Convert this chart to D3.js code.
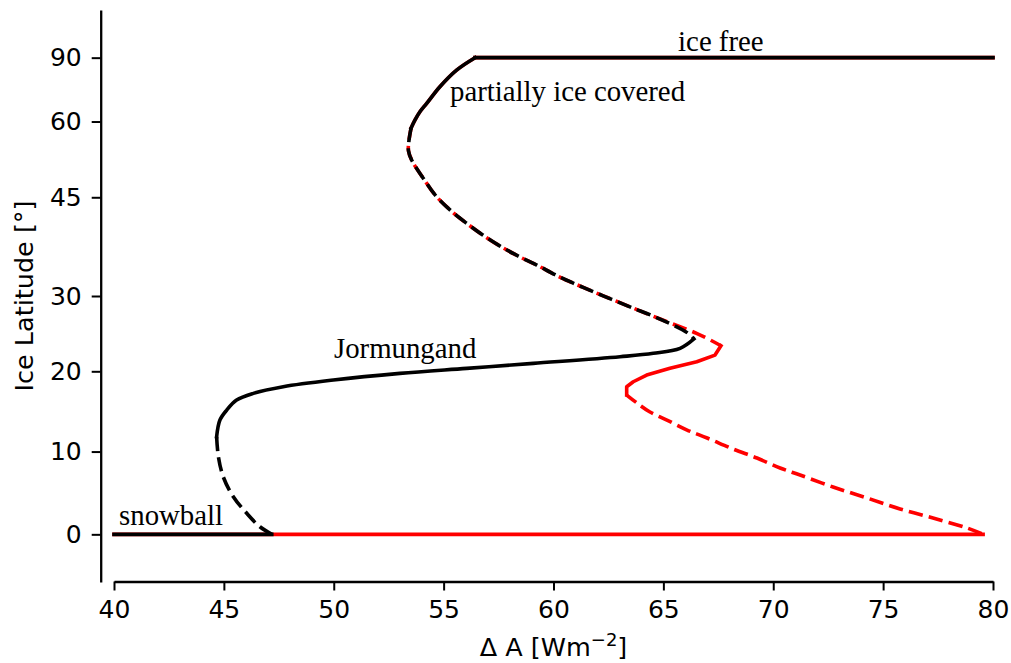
<!DOCTYPE html>
<html>
<head>
<meta charset="utf-8">
<script src="https://cdn.jsdelivr.net/npm/d3@7"></script>
<style>
  html, body { margin: 0; padding: 0; background: #fff; }
  svg { display: block; }
  .tick text { font-family: "DejaVu Sans", sans-serif; font-size: 25px; fill: #000; }
  .regime { font-family: "Liberation Serif", "Times New Roman", serif; font-size: 28.8px; fill: #000; }
  .axis-title { font-family: "DejaVu Sans", sans-serif; font-size: 25.5px; fill: #000; }
</style>
</head>
<body>
<svg id="chart" width="1011" height="663"></svg>
<script>
// Equilibrium ice-edge latitude [deg] against forcing ΔA [W m^-2].
// Each branch is a list of [ΔA, latitude] pairs.

// shared upper part of both runs
const upperStable = [[56.43, 90], [55.59, 76.9], [54.83, 69.9], [54.23, 64.7], [53.93, 62.5], [53.70, 60.4], [53.52, 58.5]];
const upperUnstableCommon = [[53.52, 58.5], [53.42, 55.6], [53.40, 53.6], [53.55, 51.7], [54.08, 48.3],
  [54.61, 45.4], [55.29, 42.9], [56.02, 40.8], [56.78, 38.9], [57.57, 37.2], [58.40, 35.7],
  [59.24, 34.4], [60.07, 33.0], [60.90, 31.8], [61.81, 30.6], [62.65, 29.54], [63.56, 28.41], [64.85, 26.85]];

// --- model run drawn in red ---
const redIceFree = [[56.43, 90], [80, 90]];
const redUpperTip = [[66.51, 24.94], [67.2, 23.96], [67.62, 23.3]];
const redJormungand = [[67.62, 23.3], [67.35, 22.09], [66.52, 21.23], [65.30, 20.38], [64.24, 19.52],
  [63.63, 18.67], [63.33, 18.04], [63.33, 16.99]];
const redLowerUnstable = [[63.33, 16.99], [63.8, 15.99], [64.39, 14.87], [65.16, 13.87], [66.08, 12.64],
  [66.99, 11.66], [68.17, 10.31], [69.26, 9.21], [70.31, 8.0], [71.22, 7.15], [72.72, 5.7],
  [74.27, 4.37], [75.77, 3.05], [77.27, 1.96], [78.82, 0.76], [79.55, 0]];
const redSnowball = [[40, 0], [79.55, 0]];

// --- model run drawn in black ---
const blackIceFree = [[56.43, 90], [80, 90]];
const blackUpperTip = [[66.13, 24.94], [66.39, 24.2]];
const blackJormungand = [[66.39, 24.2], [65.76, 22.97], [64.54, 22.32], [63.03, 21.88], [59.08, 21.02],
  [56.05, 20.38], [53.01, 19.74], [49.98, 18.89], [47.70, 18.04], [46.34, 17.2], [45.58, 16.36],
  [45.13, 15.11], [44.82, 13.87], [44.67, 11.81]];
const blackLowerUnstable = [[44.67, 11.81], [44.75, 9.37], [44.97, 6.94], [45.43, 4.52], [46.04, 2.53],
  [46.64, 0.91], [47.18, 0]];
const blackSnowball = [[40, 0], [47.18, 0]];

// axis ticks
const xTicks = [40, 45, 50, 55, 60, 65, 70, 75, 80];
const yTicksDeg = [0, 10, 20, 30, 45, 60, 90];

// regime labels: [text, ΔA, sine of latitude]
const regimeLabels = [
  ["ice free", 65.67, 1.0145],
  ["partially ice covered", 55.29, 0.909],
  ["Jormungand", 50.01, 0.37],
  ["snowball", 40.23, 0.0195]
];

const svg = d3.select("#chart");
const rad = Math.PI / 180;

// the vertical axis is linear in sin(latitude), i.e. area-weighted
const x = d3.scaleLinear().domain([40, 80]).range([114, 993]);
const ySin = d3.scaleLinear().domain([-0.1, 1.1]).range([582, 10]);
const y = lat => ySin(Math.sin(lat * rad));

const smooth = d3.line()
  .x(d => x(d[0]))
  .y(d => y(d[1]))
  .curve(d3.curveCatmullRom.alpha(0.5));
const straight = d3.line()
  .x(d => x(d[0]))
  .y(d => y(d[1]));

const lw = 3.6;
const dash = "14.4,6.2";

function drawRun(color, branches, dashOffset) {
  const g = svg.append("g");
  branches.forEach(([pts, dashed, gen]) => {
    g.append("path")
      .attr("d", (gen || smooth)(pts))
      .attr("fill", "none")
      .attr("stroke", color)
      .attr("stroke-width", lw)
      .attr("stroke-linejoin", "round")
      .attr("stroke-linecap", dashed ? "butt" : "square")
      .attr("stroke-dasharray", dashed ? dash : null)
      .attr("stroke-dashoffset", dashed ? dashOffset : null);
  });
}

drawRun("#ff0000", [
  [redSnowball, false],
  [redIceFree, false],
  [upperStable, false],
  [upperUnstableCommon.concat(redUpperTip), true],
  [redJormungand, false, straight],
  [redLowerUnstable, true]
], 2.5);

drawRun("#000000", [
  [blackSnowball, false],
  [blackIceFree, false],
  [upperStable, false],
  [upperUnstableCommon.concat(blackUpperTip), true],
  [blackJormungand, false],
  [blackLowerUnstable, true]
], 0);

// regime labels
svg.append("g").selectAll("text")
  .data(regimeLabels)
  .join("text")
  .attr("class", "regime")
  .attr("x", d => x(d[1]))
  .attr("y", d => ySin(d[2]))
  .text(d => d[0]);

// axes
const xAxis = d3.axisBottom(x)
  .tickValues(xTicks)
  .tickSizeInner(9)
  .tickSizeOuter(0)
  .tickPadding(10)
  .tickFormat(d3.format("d"));

const yAxis = d3.axisLeft(ySin)
  .tickValues(yTicksDeg.map(d => Math.sin(d * rad)))
  .tickSizeInner(9)
  .tickSizeOuter(0)
  .tickPadding(10)
  .tickFormat(d => String(Math.round(Math.asin(d) / rad)));

const gx = svg.append("g").attr("transform", "translate(0,581.5)").call(xAxis);
const gy = svg.append("g").attr("transform", "translate(100.7,0)").call(yAxis);

[gx, gy].forEach(g => {
  g.select(".domain").attr("stroke", "#000").attr("stroke-width", 2.3);
  g.selectAll(".tick line").attr("stroke", "#000").attr("stroke-width", 2);
  g.attr("font-family", null).attr("font-size", null);
});

// axis titles
const xt = svg.append("text")
  .attr("class", "axis-title")
  .attr("x", (x.range()[0] + x.range()[1]) / 2)
  .attr("y", 656)
  .attr("text-anchor", "middle");
xt.append("tspan").text("Δ A [Wm");
xt.append("tspan").attr("dy", -10).attr("font-size", "18px").text("−2");
xt.append("tspan").attr("dy", 10).text("]");

svg.append("text")
  .attr("class", "axis-title")
  .attr("transform", `translate(33,${(ySin.range()[0] + ySin.range()[1]) / 2}) rotate(-90)`)
  .attr("text-anchor", "middle")
  .text("Ice Latitude [°]");
</script>
</body>
</html>
